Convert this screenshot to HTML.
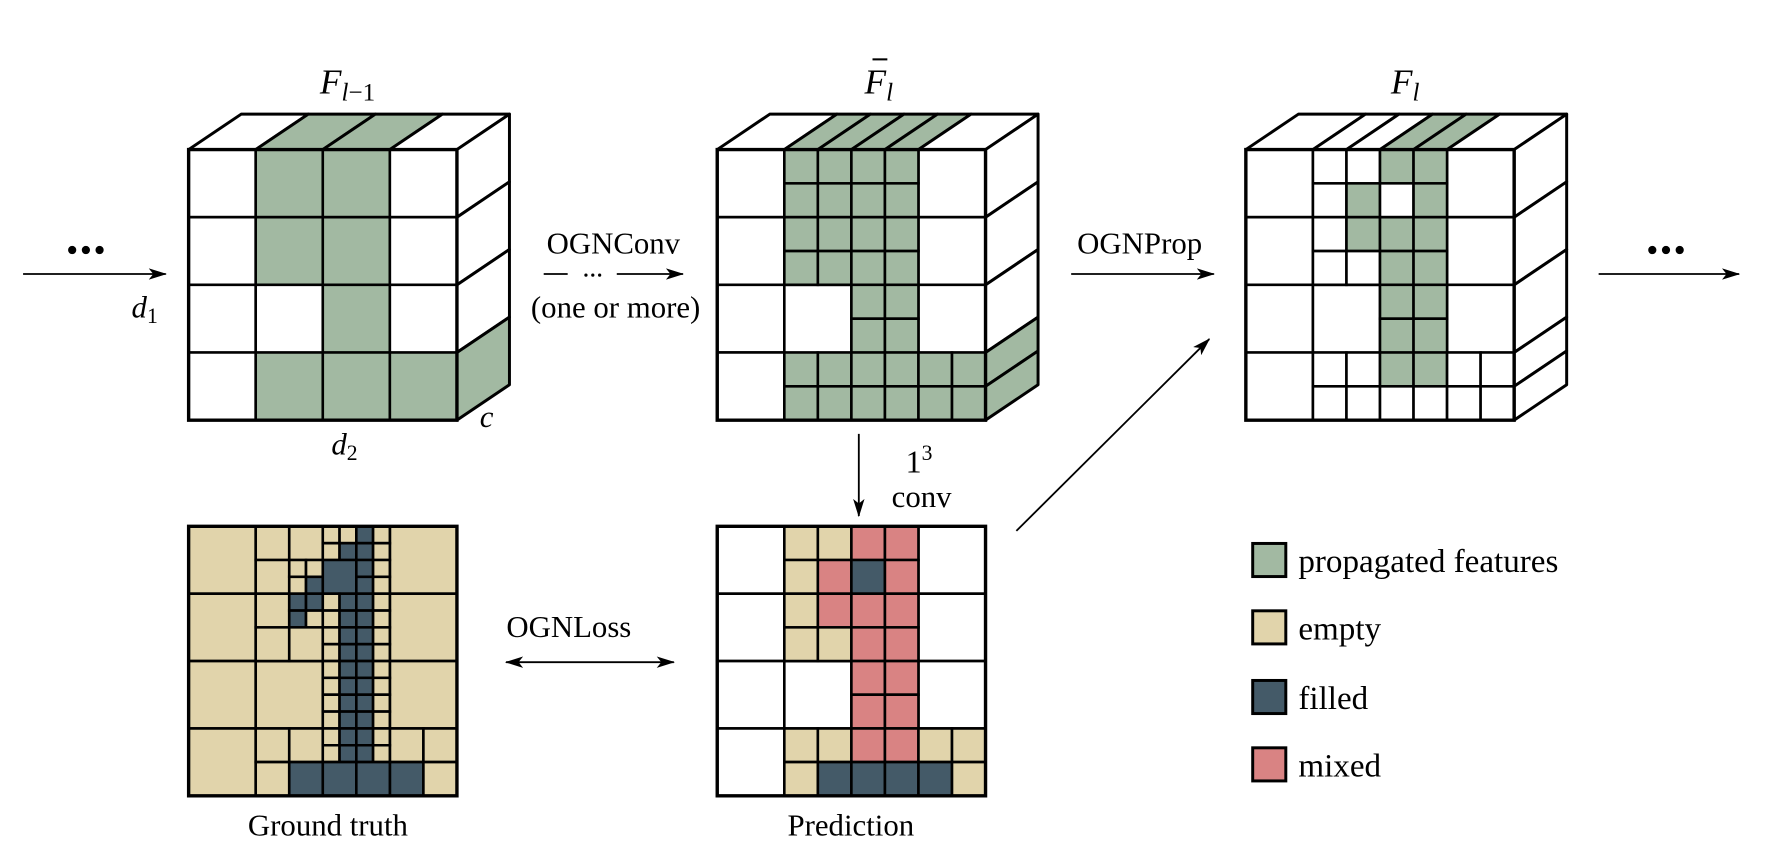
<!DOCTYPE html>
<html><head><meta charset="utf-8"><style>
html,body{margin:0;padding:0;background:#fff;}
svg{display:block;}
text{font-family:"Liberation Serif",serif;fill:#000;}
.c{stroke:#000;stroke-width:2.6;vector-effect:non-scaling-stroke;}
.o{fill:none;stroke:#000;stroke-width:3.4;vector-effect:non-scaling-stroke;}
.p{stroke:#000;stroke-width:2.6;stroke-linejoin:round;}
.W{fill:#fff}.G{fill:#a2b9a2}.T{fill:#e1d4ab}.F{fill:#445a68}.M{fill:#d98383}
</style></head><body>
<svg width="1769" height="846" viewBox="0 0 1549 741" xmlns="http://www.w3.org/2000/svg">
<defs>
<marker id="ah" markerWidth="16" markerHeight="10" refX="15" refY="5" orient="auto" markerUnits="userSpaceOnUse">
<path d="M0,0 L16,5 L0,10 L4,5 z" fill="#000"/></marker>
<marker id="ahs" markerWidth="16" markerHeight="10" refX="1" refY="5" orient="auto" markerUnits="userSpaceOnUse">
<path d="M16,0 L0,5 L16,10 L12,5 z" fill="#000"/></marker>
</defs>

<!-- ===== Cube 1 ===== -->
<g>
<polygon class="p W" points="165,131 211,100 269.75,100 223.75,131"/>
<polygon class="p G" points="223.75,131 269.75,100 328.5,100 282.5,131"/>
<polygon class="p G" points="282.5,131 328.5,100 387.25,100 341.25,131"/>
<polygon class="p W" points="341.25,131 387.25,100 446,100 400,131"/>
<polygon class="p W" points="400,131 446,100 446,159.25 400,190.25"/>
<polygon class="p W" points="400,190.25 446,159.25 446,218.5 400,249.5"/>
<polygon class="p W" points="400,249.5 446,218.5 446,277.75 400,308.75"/>
<polygon class="p G" points="400,308.75 446,277.75 446,337 400,368"/>
<g transform="translate(165,131) scale(29.375,29.625)">
<rect class="c W" x="0" y="0" width="2" height="2"/><rect class="c G" x="2" y="0" width="2" height="2"/><rect class="c G" x="4" y="0" width="2" height="2"/><rect class="c W" x="6" y="0" width="2" height="2"/>
<rect class="c W" x="0" y="2" width="2" height="2"/><rect class="c G" x="2" y="2" width="2" height="2"/><rect class="c G" x="4" y="2" width="2" height="2"/><rect class="c W" x="6" y="2" width="2" height="2"/>
<rect class="c W" x="0" y="4" width="2" height="2"/><rect class="c W" x="2" y="4" width="2" height="2"/><rect class="c G" x="4" y="4" width="2" height="2"/><rect class="c W" x="6" y="4" width="2" height="2"/>
<rect class="c W" x="0" y="6" width="2" height="2"/><rect class="c G" x="2" y="6" width="2" height="2"/><rect class="c G" x="4" y="6" width="2" height="2"/><rect class="c G" x="6" y="6" width="2" height="2"/>
<rect class="o" x="0" y="0" width="8" height="8"/>
</g>
</g>

<!-- ===== Cube 2 ===== -->
<g transform="translate(463,0)">
<polygon class="p W" points="165,131 211,100 269.75,100 223.75,131"/>
<polygon class="p G" points="223.75,131 269.75,100 299.125,100 253.125,131"/>
<polygon class="p G" points="253.125,131 299.125,100 328.5,100 282.5,131"/>
<polygon class="p G" points="282.5,131 328.5,100 357.875,100 311.875,131"/>
<polygon class="p G" points="311.875,131 357.875,100 387.25,100 341.25,131"/>
<polygon class="p W" points="341.25,131 387.25,100 446,100 400,131"/>
<polygon class="p W" points="400,131 446,100 446,159.25 400,190.25"/>
<polygon class="p W" points="400,190.25 446,159.25 446,218.5 400,249.5"/>
<polygon class="p W" points="400,249.5 446,218.5 446,277.75 400,308.75"/>
<polygon class="p G" points="400,308.75 446,277.75 446,307.375 400,338.375"/>
<polygon class="p G" points="400,338.375 446,307.375 446,337 400,368"/>
<g transform="translate(165,131) scale(29.375,29.625)">
<rect class="c W" x="0" y="0" width="2" height="2"/><rect class="c W" x="0" y="2" width="2" height="2"/><rect class="c W" x="0" y="4" width="2" height="2"/><rect class="c W" x="0" y="6" width="2" height="2"/>
<rect class="c W" x="6" y="0" width="2" height="2"/><rect class="c W" x="6" y="2" width="2" height="2"/><rect class="c W" x="6" y="4" width="2" height="2"/>
<rect class="c W" x="2" y="4" width="2" height="2"/>
<rect class="c G" x="2" y="0" width="1" height="1"/><rect class="c G" x="3" y="0" width="1" height="1"/><rect class="c G" x="4" y="0" width="1" height="1"/><rect class="c G" x="5" y="0" width="1" height="1"/>
<rect class="c G" x="2" y="1" width="1" height="1"/><rect class="c G" x="3" y="1" width="1" height="1"/><rect class="c G" x="4" y="1" width="1" height="1"/><rect class="c G" x="5" y="1" width="1" height="1"/>
<rect class="c G" x="2" y="2" width="1" height="1"/><rect class="c G" x="3" y="2" width="1" height="1"/><rect class="c G" x="4" y="2" width="1" height="1"/><rect class="c G" x="5" y="2" width="1" height="1"/>
<rect class="c G" x="2" y="3" width="1" height="1"/><rect class="c G" x="3" y="3" width="1" height="1"/><rect class="c G" x="4" y="3" width="1" height="1"/><rect class="c G" x="5" y="3" width="1" height="1"/>
<rect class="c G" x="4" y="4" width="1" height="1"/><rect class="c G" x="5" y="4" width="1" height="1"/><rect class="c G" x="4" y="5" width="1" height="1"/><rect class="c G" x="5" y="5" width="1" height="1"/>
<rect class="c W" x="0" y="6" width="2" height="2"/>
<rect class="c G" x="2" y="6" width="1" height="1"/><rect class="c G" x="3" y="6" width="1" height="1"/><rect class="c G" x="4" y="6" width="1" height="1"/><rect class="c G" x="5" y="6" width="1" height="1"/><rect class="c G" x="6" y="6" width="1" height="1"/><rect class="c G" x="7" y="6" width="1" height="1"/>
<rect class="c G" x="2" y="7" width="1" height="1"/><rect class="c G" x="3" y="7" width="1" height="1"/><rect class="c G" x="4" y="7" width="1" height="1"/><rect class="c G" x="5" y="7" width="1" height="1"/><rect class="c G" x="6" y="7" width="1" height="1"/><rect class="c G" x="7" y="7" width="1" height="1"/>
<rect class="o" x="0" y="0" width="8" height="8"/>
</g>
</g>

<!-- ===== Cube 3 ===== -->
<g transform="translate(926,0)">
<polygon class="p W" points="165,131 211,100 269.75,100 223.75,131"/>
<polygon class="p W" points="223.75,131 269.75,100 299.125,100 253.125,131"/>
<polygon class="p W" points="253.125,131 299.125,100 328.5,100 282.5,131"/>
<polygon class="p G" points="282.5,131 328.5,100 357.875,100 311.875,131"/>
<polygon class="p G" points="311.875,131 357.875,100 387.25,100 341.25,131"/>
<polygon class="p W" points="341.25,131 387.25,100 446,100 400,131"/>
<polygon class="p W" points="400,131 446,100 446,159.25 400,190.25"/>
<polygon class="p W" points="400,190.25 446,159.25 446,218.5 400,249.5"/>
<polygon class="p W" points="400,249.5 446,218.5 446,277.75 400,308.75"/>
<polygon class="p W" points="400,308.75 446,277.75 446,307.375 400,338.375"/>
<polygon class="p W" points="400,338.375 446,307.375 446,337 400,368"/>
<g transform="translate(165,131) scale(29.375,29.625)">
<rect class="c W" x="0" y="0" width="2" height="2"/><rect class="c W" x="0" y="2" width="2" height="2"/><rect class="c W" x="0" y="4" width="2" height="2"/><rect class="c W" x="0" y="6" width="2" height="2"/>
<rect class="c W" x="6" y="0" width="2" height="2"/><rect class="c W" x="6" y="2" width="2" height="2"/><rect class="c W" x="6" y="4" width="2" height="2"/>
<rect class="c W" x="2" y="4" width="2" height="2"/>
<rect class="c W" x="2" y="0" width="1" height="1"/><rect class="c W" x="3" y="0" width="1" height="1"/><rect class="c G" x="4" y="0" width="1" height="1"/><rect class="c G" x="5" y="0" width="1" height="1"/>
<rect class="c W" x="2" y="1" width="1" height="1"/><rect class="c G" x="3" y="1" width="1" height="1"/><rect class="c W" x="4" y="1" width="1" height="1"/><rect class="c G" x="5" y="1" width="1" height="1"/>
<rect class="c W" x="2" y="2" width="1" height="1"/><rect class="c G" x="3" y="2" width="1" height="1"/><rect class="c G" x="4" y="2" width="1" height="1"/><rect class="c G" x="5" y="2" width="1" height="1"/>
<rect class="c W" x="2" y="3" width="1" height="1"/><rect class="c W" x="3" y="3" width="1" height="1"/><rect class="c G" x="4" y="3" width="1" height="1"/><rect class="c G" x="5" y="3" width="1" height="1"/>
<rect class="c G" x="4" y="4" width="1" height="1"/><rect class="c G" x="5" y="4" width="1" height="1"/><rect class="c G" x="4" y="5" width="1" height="1"/><rect class="c G" x="5" y="5" width="1" height="1"/>
<rect class="c W" x="2" y="6" width="1" height="1"/><rect class="c W" x="3" y="6" width="1" height="1"/><rect class="c G" x="4" y="6" width="1" height="1"/><rect class="c G" x="5" y="6" width="1" height="1"/><rect class="c W" x="6" y="6" width="1" height="1"/><rect class="c W" x="7" y="6" width="1" height="1"/>
<rect class="c W" x="2" y="7" width="1" height="1"/><rect class="c W" x="3" y="7" width="1" height="1"/><rect class="c W" x="4" y="7" width="1" height="1"/><rect class="c W" x="5" y="7" width="1" height="1"/><rect class="c W" x="6" y="7" width="1" height="1"/><rect class="c W" x="7" y="7" width="1" height="1"/>
<rect class="o" x="0" y="0" width="8" height="8"/>
</g>
</g>

<!-- ===== Ground truth ===== -->
<g transform="translate(165,461) scale(14.6875,14.75)">
<rect class="c T" x="0" y="0" width="4" height="4"/><rect class="c T" x="0" y="4" width="4" height="4"/><rect class="c T" x="0" y="8" width="4" height="4"/><rect class="c T" x="0" y="12" width="4" height="4"/>
<rect class="c T" x="12" y="0" width="4" height="4"/><rect class="c T" x="12" y="4" width="4" height="4"/><rect class="c T" x="12" y="8" width="4" height="4"/>
<rect class="c T" x="4" y="8" width="4" height="4"/>
<rect class="c T" x="12" y="12" width="2" height="2"/><rect class="c T" x="14" y="12" width="2" height="2"/><rect class="c F" x="12" y="14" width="2" height="2"/><rect class="c T" x="14" y="14" width="2" height="2"/>
<rect class="c T" x="4" y="0" width="2" height="2"/><rect class="c T" x="6" y="0" width="2" height="2"/><rect class="c T" x="4" y="2" width="2" height="2"/>
<rect class="c T" x="6" y="2" width="1" height="1"/><rect class="c T" x="7" y="2" width="1" height="1"/><rect class="c T" x="6" y="3" width="1" height="1"/><rect class="c F" x="7" y="3" width="1" height="1"/>
<rect class="c T" x="4" y="4" width="2" height="2"/>
<rect class="c F" x="6" y="4" width="1" height="1"/><rect class="c F" x="7" y="4" width="1" height="1"/><rect class="c F" x="6" y="5" width="1" height="1"/><rect class="c T" x="7" y="5" width="1" height="1"/>
<rect class="c T" x="4" y="6" width="2" height="2"/><rect class="c T" x="6" y="6" width="2" height="2"/>
<rect class="c T" x="4" y="12" width="2" height="2"/><rect class="c T" x="6" y="12" width="2" height="2"/><rect class="c T" x="4" y="14" width="2" height="2"/><rect class="c F" x="6" y="14" width="2" height="2"/>
<rect class="c T" x="8" y="0" width="1" height="1"/><rect class="c T" x="9" y="0" width="1" height="1"/><rect class="c T" x="8" y="1" width="1" height="1"/><rect class="c F" x="9" y="1" width="1" height="1"/>
<rect class="c F" x="10" y="0" width="1" height="1"/><rect class="c T" x="11" y="0" width="1" height="1"/><rect class="c F" x="10" y="1" width="1" height="1"/><rect class="c T" x="11" y="1" width="1" height="1"/>
<rect class="c F" x="8" y="2" width="2" height="2"/>
<rect class="c F" x="10" y="2" width="1" height="1"/><rect class="c T" x="11" y="2" width="1" height="1"/><rect class="c F" x="10" y="3" width="1" height="1"/><rect class="c T" x="11" y="3" width="1" height="1"/>
<g>
<rect class="c T" x="8" y="4" width="1" height="1"/><rect class="c F" x="9" y="4" width="1" height="1"/><rect class="c F" x="10" y="4" width="1" height="1"/><rect class="c T" x="11" y="4" width="1" height="1"/>
<rect class="c T" x="8" y="5" width="1" height="1"/><rect class="c F" x="9" y="5" width="1" height="1"/><rect class="c F" x="10" y="5" width="1" height="1"/><rect class="c T" x="11" y="5" width="1" height="1"/>
<rect class="c T" x="8" y="6" width="1" height="1"/><rect class="c F" x="9" y="6" width="1" height="1"/><rect class="c F" x="10" y="6" width="1" height="1"/><rect class="c T" x="11" y="6" width="1" height="1"/>
<rect class="c T" x="8" y="7" width="1" height="1"/><rect class="c F" x="9" y="7" width="1" height="1"/><rect class="c F" x="10" y="7" width="1" height="1"/><rect class="c T" x="11" y="7" width="1" height="1"/>
<rect class="c T" x="8" y="8" width="1" height="1"/><rect class="c F" x="9" y="8" width="1" height="1"/><rect class="c F" x="10" y="8" width="1" height="1"/><rect class="c T" x="11" y="8" width="1" height="1"/>
<rect class="c T" x="8" y="9" width="1" height="1"/><rect class="c F" x="9" y="9" width="1" height="1"/><rect class="c F" x="10" y="9" width="1" height="1"/><rect class="c T" x="11" y="9" width="1" height="1"/>
<rect class="c T" x="8" y="10" width="1" height="1"/><rect class="c F" x="9" y="10" width="1" height="1"/><rect class="c F" x="10" y="10" width="1" height="1"/><rect class="c T" x="11" y="10" width="1" height="1"/>
<rect class="c T" x="8" y="11" width="1" height="1"/><rect class="c F" x="9" y="11" width="1" height="1"/><rect class="c F" x="10" y="11" width="1" height="1"/><rect class="c T" x="11" y="11" width="1" height="1"/>
<rect class="c T" x="8" y="12" width="1" height="1"/><rect class="c F" x="9" y="12" width="1" height="1"/><rect class="c F" x="10" y="12" width="1" height="1"/><rect class="c T" x="11" y="12" width="1" height="1"/>
<rect class="c T" x="8" y="13" width="1" height="1"/><rect class="c F" x="9" y="13" width="1" height="1"/><rect class="c F" x="10" y="13" width="1" height="1"/><rect class="c T" x="11" y="13" width="1" height="1"/>
</g>
<rect class="c F" x="8" y="14" width="2" height="2"/><rect class="c F" x="10" y="14" width="2" height="2"/>
<rect class="o" x="0" y="0" width="16" height="16"/>
</g>

<!-- ===== Prediction ===== -->
<g transform="translate(628,461) scale(29.375,29.5)">
<rect class="c W" x="0" y="0" width="2" height="2"/><rect class="c W" x="0" y="2" width="2" height="2"/><rect class="c W" x="0" y="4" width="2" height="2"/><rect class="c W" x="0" y="6" width="2" height="2"/>
<rect class="c W" x="6" y="0" width="2" height="2"/><rect class="c W" x="6" y="2" width="2" height="2"/><rect class="c W" x="6" y="4" width="2" height="2"/>
<rect class="c W" x="2" y="4" width="2" height="2"/>
<rect class="c T" x="2" y="0" width="1" height="1"/><rect class="c T" x="3" y="0" width="1" height="1"/><rect class="c T" x="2" y="1" width="1" height="1"/><rect class="c M" x="3" y="1" width="1" height="1"/>
<rect class="c M" x="4" y="0" width="1" height="1"/><rect class="c M" x="5" y="0" width="1" height="1"/><rect class="c F" x="4" y="1" width="1" height="1"/><rect class="c M" x="5" y="1" width="1" height="1"/>
<rect class="c T" x="2" y="2" width="1" height="1"/><rect class="c M" x="3" y="2" width="1" height="1"/><rect class="c T" x="2" y="3" width="1" height="1"/><rect class="c T" x="3" y="3" width="1" height="1"/>
<rect class="c M" x="4" y="2" width="1" height="1"/><rect class="c M" x="5" y="2" width="1" height="1"/><rect class="c M" x="4" y="3" width="1" height="1"/><rect class="c M" x="5" y="3" width="1" height="1"/>
<rect class="c M" x="4" y="4" width="1" height="1"/><rect class="c M" x="5" y="4" width="1" height="1"/><rect class="c M" x="4" y="5" width="1" height="1"/><rect class="c M" x="5" y="5" width="1" height="1"/>
<rect class="c T" x="2" y="6" width="1" height="1"/><rect class="c T" x="3" y="6" width="1" height="1"/><rect class="c T" x="2" y="7" width="1" height="1"/><rect class="c F" x="3" y="7" width="1" height="1"/>
<rect class="c M" x="4" y="6" width="1" height="1"/><rect class="c M" x="5" y="6" width="1" height="1"/><rect class="c F" x="4" y="7" width="1" height="1"/><rect class="c F" x="5" y="7" width="1" height="1"/>
<rect class="c T" x="6" y="6" width="1" height="1"/><rect class="c T" x="7" y="6" width="1" height="1"/><rect class="c F" x="6" y="7" width="1" height="1"/><rect class="c T" x="7" y="7" width="1" height="1"/>
<rect class="o" x="0" y="0" width="8" height="8"/>
</g>

<!-- ===== Arrows ===== -->
<g stroke="#000" stroke-width="1.6" fill="none">
<line x1="20" y1="240" x2="145" y2="240" marker-end="url(#ah)"/>
<line x1="476" y1="240" x2="497" y2="240"/>
<line x1="540" y1="240" x2="598" y2="240" marker-end="url(#ah)"/>
<line x1="938" y1="240" x2="1063" y2="240" marker-end="url(#ah)"/>
<line x1="1400" y1="240" x2="1523" y2="240" marker-end="url(#ah)"/>
<line x1="752" y1="380" x2="752" y2="452" marker-end="url(#ah)"/>
<line x1="890" y1="465" x2="1059" y2="297" marker-end="url(#ah)"/>
<line x1="443" y1="580" x2="590" y2="580" marker-start="url(#ahs)" marker-end="url(#ah)"/>
</g>
<g fill="#000">
<circle cx="63" cy="219" r="3.6"/><circle cx="75" cy="219" r="3.6"/><circle cx="87" cy="219" r="3.6"/>
<circle cx="1447" cy="219" r="3.6"/><circle cx="1459" cy="219" r="3.6"/><circle cx="1471" cy="219" r="3.6"/>
<circle cx="513" cy="241" r="1.4"/><circle cx="519" cy="241" r="1.4"/><circle cx="525" cy="241" r="1.4"/>
</g>

<!-- ===== Labels ===== -->
<text x="280" y="82" font-size="31" font-style="italic">F<tspan font-size="22" dy="6">l</tspan><tspan font-size="22" font-style="normal">−1</tspan></text>
<text x="757" y="82" font-size="31" font-style="italic">F<tspan font-size="22" dy="6">l</tspan></text>
<line x1="764" y1="52" x2="777" y2="52" stroke="#000" stroke-width="1.8"/>
<text x="1218" y="82" font-size="31" font-style="italic">F<tspan font-size="22" dy="6">l</tspan></text>
<text x="115" y="278" font-size="27" font-style="italic">d<tspan font-size="19" font-style="normal" dy="5">1</tspan></text>
<text x="290" y="398" font-size="27" font-style="italic">d<tspan font-size="19" font-style="normal" dy="5">2</tspan></text>
<text x="420" y="374" font-size="27" font-style="italic">c</text>
<text x="537" y="222" font-size="27" text-anchor="middle">OGNConv</text>
<text x="539" y="278" font-size="27" text-anchor="middle">(one or more)</text>
<text x="998" y="222" font-size="27" text-anchor="middle">OGNProp</text>
<text x="793" y="414" font-size="28">1<tspan font-size="19" dy="-11">3</tspan></text>
<text x="807" y="444" font-size="27" text-anchor="middle">conv</text>
<text x="498" y="558" font-size="27" text-anchor="middle">OGNLoss</text>
<text x="287" y="732" font-size="27" text-anchor="middle">Ground truth</text>
<text x="745" y="732" font-size="27" text-anchor="middle">Prediction</text>

<!-- ===== Legend ===== -->
<rect x="1097" y="476" width="29" height="29" class="G" stroke="#000" stroke-width="2.6"/>
<rect x="1097" y="535" width="29" height="29" class="T" stroke="#000" stroke-width="2.6"/>
<rect x="1097" y="596" width="29" height="29" class="F" stroke="#000" stroke-width="2.6"/>
<rect x="1097" y="655" width="29" height="29" class="M" stroke="#000" stroke-width="2.6"/>
<text x="1137" y="501" font-size="29">propagated features</text>
<text x="1137" y="560" font-size="29">empty</text>
<text x="1137" y="621" font-size="29">filled</text>
<text x="1137" y="680" font-size="29">mixed</text>
</svg>
</body></html>
